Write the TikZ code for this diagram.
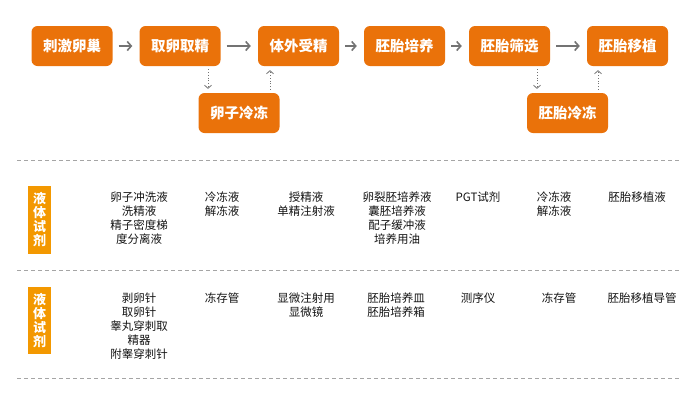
\documentclass[tikz,border=0pt]{standalone}
\usepackage{fontspec}
\setmainfont{Noto Sans CJK SC}
\usepackage{xcolor}
\usepackage{tikz}
\usetikzlibrary{positioning, arrows.meta, calc}

\definecolor{stageorange}{RGB}{234,114,10}
\definecolor{tagorange}{RGB}{243,152,0}
\definecolor{arrowgray}{RGB}{115,115,115}
\definecolor{linegray}{RGB}{165,165,165}
\definecolor{itemtext}{RGB}{20,20,20}

\tikzset{
  stage/.style={fill=stageorange, rounded corners=6pt, minimum width=81pt, minimum height=40pt, inner sep=0pt, text=white, font=\fontsize{14.5}{16}\selectfont\bfseries},
  tag/.style={fill=tagorange, minimum width=23pt, inner sep=0pt, align=center, text=white, font=\fontsize{13}{14}\selectfont\bfseries},
  item/.style={anchor=north, inner sep=0pt, align=center, text=itemtext, font=\fontsize{11.5}{14}\selectfont},
  flow/.style={draw=arrowgray, line width=1.6pt, shorten <=6pt, shorten >=7pt, -{Straight Barb[length=4pt, width=9pt]}},
  side/.style={draw=arrowgray, dotted, line width=0.8pt, shorten <=3pt, shorten >=4pt, -{Straight Barb[length=3pt, width=7pt]}},
  sep/.style={draw=linegray, line width=0.8pt, dash pattern=on 4pt off 3pt}
}

\begin{document}
\begin{tikzpicture}[x=1pt, y=-1pt]
    \useasboundingbox (0,0) rectangle (700,400);

    % Etapes
    \node[stage] (ovar) at (72,46) {刺激卵巢};
    \node[stage] (pick) at (180,46) {取卵取精};
    \node[stage] (ivf)  at (298.5,46) {体外受精};
    \node[stage] (cult) at (404.5,46) {胚胎培养};
    \node[stage] (pgt)  at (509.5,46) {胚胎筛选};
    \node[stage] (trans) at (627.5,46) {胚胎移植};

    \node[stage] (eggfrz) at (239,113) {卵子冷冻};
    \node[stage] (embfrz) at (567.5,113) {胚胎冷冻};

    % Fleches
    \draw[flow] (ovar) -- (pick);
    \draw[flow] (pick) -- (ivf);
    \draw[flow] (ivf) -- (cult);
    \draw[flow] (cult) -- (pgt);
    \draw[flow] (pgt) -- (trans);

    \draw[side] ([xshift=28pt]pick.south) -- ([xshift=28pt]pick.south |- eggfrz.north);
    \draw[side] ([xshift=-28.5pt]ivf.south |- eggfrz.north) -- ([xshift=-28.5pt]ivf.south);
    \draw[side] ([xshift=27.5pt]pgt.south) -- ([xshift=27.5pt]pgt.south |- embfrz.north);
    \draw[side] ([xshift=-29.5pt]trans.south |- embfrz.north) -- ([xshift=-29.5pt]trans.south);

    % Separateurs
    \draw[sep] (17,160) -- (680,160);
    \draw[sep] (17,270) -- (680,270);
    \draw[sep] (17,378) -- (680,378);

    % Ligne 1
    \node[tag, minimum height=68pt] (tagA) at (39.5,220) {液\\体\\试\\剂};
    \node[item] (a1) at (139,192) {卵子冲洗液\\洗精液\\精子密度梯\\度分离液};
    \node[item] (a2) at (222,192) {冷冻液\\解冻液};
    \node[item] (a3) at (306,192) {授精液\\单精注射液};
    \node[item] (a4) at (397,192) {卵裂胚培养液\\囊胚培养液\\配子缓冲液\\培养用油};
    \node[item] (a5) at (478,192) {PGT试剂};
    \node[item] (a6) at (554,192) {冷冻液\\解冻液};
    \node[item] (a7) at (637,192) {胚胎移植液};

    % Ligne 2
    \node[tag, minimum height=67pt] (tagB) at (39.5,320.5) {液\\体\\试\\剂};
    \node[item] (b1) at (139,293) {剥卵针\\取卵针\\睾丸穿刺取\\精器\\附睾穿刺针};
    \node[item] (b2) at (222,293) {冻存管};
    \node[item] (b3) at (306,293) {显微注射用\\显微镜};
    \node[item] (b4) at (396,293) {胚胎培养皿\\胚胎培养箱};
    \node[item] (b5) at (478,293) {测序仪};
    \node[item] (b6) at (559,293) {冻存管};
    \node[item] (b7) at (642,293) {胚胎移植导管};
\end{tikzpicture}
\end{document}
